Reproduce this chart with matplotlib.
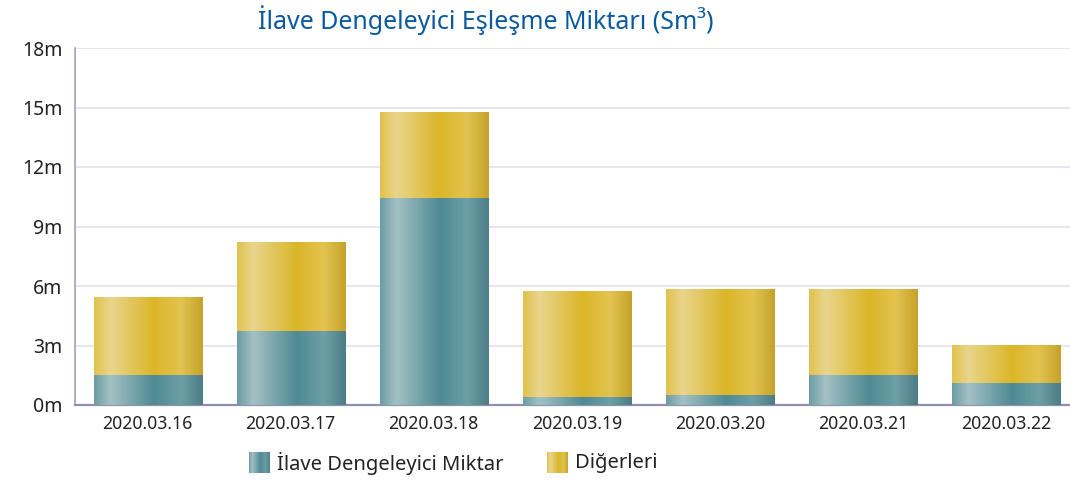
import matplotlib.pyplot as plt
import numpy as np
from matplotlib.colors import LinearSegmentedColormap

plt.rcParams['font.family'] = ['Noto Sans', 'DejaVu Sans']

# data (million Sm3)
dates = ["2020.03.16", "2020.03.17", "2020.03.18", "2020.03.19",
         "2020.03.20", "2020.03.21", "2020.03.22"]
ilave = [1.51, 3.73, 10.44, 0.40, 0.50, 1.51, 1.11]
toplam = [5.45, 8.22, 14.78, 5.75, 5.85, 5.85, 3.03]
digerleri = [t - i for t, i in zip(toplam, ilave)]

title = "İlave Dengeleyici Eşleşme Miktarı (Sm³)"
series_names = ["İlave Dengeleyici Miktar", "Diğerleri"]
yticks = [0, 3, 6, 9, 12, 15, 18]

# horizontal "cylinder" shading
stops = [0.0, 0.15, 0.55, 0.8, 1.0]
teal = LinearSegmentedColormap.from_list(
    "teal", list(zip(stops, ["#6b9ca4", "#a3c1c5", "#4f8a93", "#6d9fa6", "#4c7d86"])))
gold = LinearSegmentedColormap.from_list(
    "gold", list(zip(stops, ["#e1c24e", "#e9d58c", "#dbb628", "#e2c350", "#c6a22a"])))
grad = np.linspace(0, 1, 256).reshape(1, -1)


def grad_bars(ax, x, heights, bottoms, width, cmap):
    bars = ax.bar(x, heights, width, bottom=bottoms, color="none", linewidth=0, zorder=3)
    for b in bars:
        x0, y0 = b.get_x(), b.get_y()
        w, h = b.get_width(), b.get_height()
        im = ax.imshow(grad, cmap=cmap, aspect="auto", extent=[x0, x0 + w, y0, y0 + h],
                       interpolation="bicubic", zorder=3)
        im.set_clip_path(b)
    return bars


fig = plt.figure(figsize=(10.7, 4.82), dpi=100)
ax = fig.add_axes([75 / 1070, 1 - 405 / 482, 1 - 75 / 1070, (405 - 48) / 482])

x = np.arange(len(dates))
width = 0.755
grad_bars(ax, x, ilave, [0] * len(x), width, teal)
grad_bars(ax, x, digerleri, ilave, width, gold)

ax.set_xlim(-0.507, 6.447)
ax.set_ylim(0, 18)
ax.set_yticks(yticks, [f"{v}m" for v in yticks])
ax.set_xticks(x, dates)
ax.tick_params(axis="y", length=0, pad=9, labelsize=14, labelcolor="#222222")
ax.tick_params(axis="x", length=0, pad=7, labelsize=12.7, labelcolor="#222222")
ax.grid(axis="y", color="#e2e2ec", linewidth=1.2, zorder=0)
ax.set_axisbelow(True)
for s in ["top", "right"]:
    ax.spines[s].set_visible(False)
ax.spines["left"].set_color("#a0a0bc")
ax.spines["bottom"].set_color("#9090ac")
ax.spines["left"].set_linewidth(1.2)
ax.spines["bottom"].set_linewidth(1.6)

fig.text(486 / 1070, 1 - 20 / 482, title, ha="center", va="center",
         fontsize=18, color="#0b5aa0")

# legend with shaded swatches
for left, cmap, name in [(249, teal, series_names[0]), (547, gold, series_names[1])]:
    sw = fig.add_axes([left / 1070, 1 - 473 / 482, 21 / 1070, 21 / 482])
    sw.imshow(grad, cmap=cmap, aspect="auto", interpolation="bicubic")
    sw.set_axis_off()
    fig.text((left + 28) / 1070, 1 - 463 / 482, name, ha="left", va="center",
             fontsize=14.5, color="#222222")

fig.savefig("out.png", dpi=100)
